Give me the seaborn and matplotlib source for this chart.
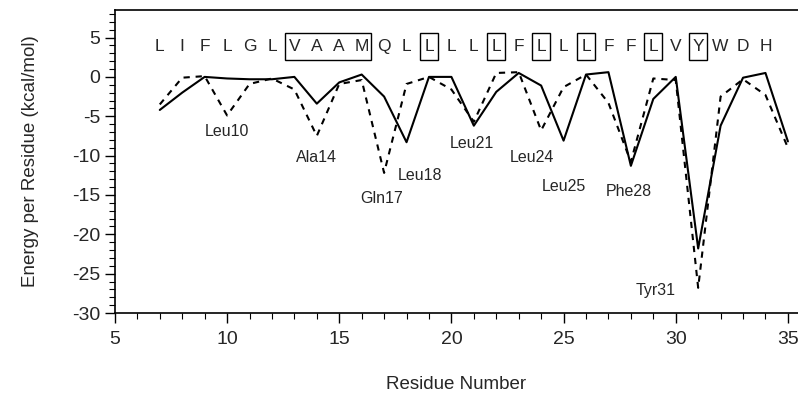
import numpy as np
import pandas as pd
import matplotlib
matplotlib.use("Agg")
import matplotlib.pyplot as plt
from matplotlib.patches import Rectangle
from matplotlib.ticker import MultipleLocator
import seaborn as sns

# ─────────────────────────────────────────
# DATA
# ─────────────────────────────────────────

residues = list(range(7, 36))

# solid line
energySolid = [-4.2, -2.0, 0.0, -0.2, -0.3, -0.3, 0.0, -3.4, -0.7, 0.3, -2.5,
               -8.3, 0.0, 0.0, -6.2, -1.9, 0.5, -1.1, -8.1, 0.3, 0.6,
               -11.3, -2.8, 0.0, -21.8, -6.2, -0.1, 0.5, -8.2]

# dashed line
energyDashed = [-3.5, -0.1, 0.1, -4.9, -0.9, -0.2, -1.6, -7.5, -0.9, -0.4, -12.2,
                -0.9, 0.0, -1.6, -5.7, 0.5, 0.6, -6.8, -1.3, 0.3, -3.3,
                -10.8, -0.2, -0.4, -26.8, -2.5, -0.3, -2.3, -9.0]

# one-letter sequence across the top, starting at residue 7
sequence = list("LIFLGLVAAMQLLLLLFLLLFFLVYWDH")
boxedGroups = [(13, 16), (19, 19), (22, 22), (24, 24), (26, 26), (29, 29), (31, 31)]

# labelled minima: text, x, y
hotLabels = ["Leu10", "Ala14", "Gln17", "Leu18", "Leu21", "Leu24", "Leu25", "Phe28", "Tyr31"]
hotX      = [10.0, 14.0, 16.9, 18.6, 20.9, 23.6, 25.0, 27.9, 29.1]
hotY      = [-7.0, -10.2, -15.4, -12.5, -8.4, -10.3, -13.9, -14.6, -27.1]

df = pd.DataFrame({"residue": residues, "solid": energySolid, "dashed": energyDashed})

# ─────────────────────────────────────────
# PLOT
# ─────────────────────────────────────────

sns.set_theme(style="ticks")
plt.rcParams["font.family"] = ["Liberation Sans", "DejaVu Sans"]
plt.rcParams["axes.unicode_minus"] = False

fig = plt.figure(figsize=(7.98, 4.0), dpi=100)
ax = fig.add_axes([0.144, 0.2175, 0.856, 0.7575])

sns.lineplot(data=df, x="residue", y="solid", color="black", linewidth=1.5, ax=ax)
sns.lineplot(data=df, x="residue", y="dashed", color="black", linewidth=1.5,
             linestyle=(0, (3.0, 2.8)), ax=ax)

# sequence letters + boxes
letterY = 3.9
for i, aa in enumerate(sequence):
    ax.text(residues[i], letterY, aa, ha="center", va="center", fontsize=12.5)
for start, end in boxedGroups:
    ax.add_patch(Rectangle((start - 0.4, letterY - 1.7), end - start + 0.8, 3.4,
                           fill=False, edgecolor="black", linewidth=1.0))

for label, x, y in zip(hotLabels, hotX, hotY):
    ax.text(x, y, label, ha="center", va="center", fontsize=11.5)

ax.set_xlim(5, 35.45)
ax.set_ylim(-30, 8.5)
ax.set_xticks(range(5, 36, 5))
ax.set_yticks(range(-30, 6, 5))
ax.xaxis.set_minor_locator(MultipleLocator(1))
ax.yaxis.set_minor_locator(MultipleLocator(1))
ax.tick_params(which="major", length=7, width=1, labelsize=14, color="black")
ax.tick_params(which="minor", length=4, width=0.8, color="black")
ax.tick_params(axis="x", pad=6)

for side in ["left", "bottom", "top"]:
    ax.spines[side].set_linewidth(1.2)
    ax.spines[side].set_color("black")
ax.spines["right"].set_visible(False)

ax.set_xlabel("Residue Number", fontsize=13.5, labelpad=20)
ax.set_ylabel("Energy per Residue (kcal/mol)", fontsize=13.5, labelpad=24)

fig.savefig("out.png", dpi=100)
plt.close(fig)
